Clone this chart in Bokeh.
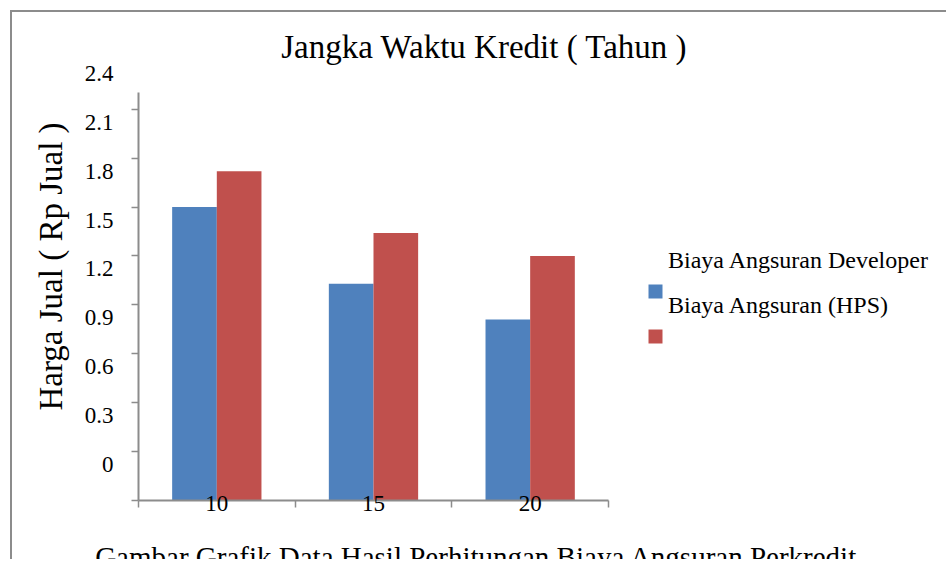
from bokeh.plotting import figure
from bokeh.models import (ColumnDataSource, Range1d, LinearAxis, FixedTicker,
                          Legend, LegendItem, Label, BoxAnnotation)
from bokeh.transform import dodge
from bokeh.embed import file_html
from bokeh.resources import INLINE

# ---------------- data ----------------
categories = ["10", "15", "20"]
developer = [1.50, 1.03, 0.81]
hps = [1.72, 1.34, 1.20]
series_names = ["Biaya Angsuran Developer", "Biaya Angsuran (HPS)"]
y_tick_values = [0, 0.3, 0.6, 0.9, 1.2, 1.5, 1.8, 2.1, 2.4]
y_tick_labels = ["0", "0.3", "0.6", "0.9", "1.2", "1.5", "1.8", "2.1", "2.4"]
title_text = "Jangka Waktu Kredit ( Tahun )"
y_title = "Harga Jual ( Rp Jual )"
caption_text = "Gambar Grafik Data Hasil Perhitungan Biaya Angsuran Perkredit"

# ---------------- style ----------------
FONT = "Liberation Serif"
GRAY = "#8c8c8c"
BLUE = "#4F81BD"
RED = "#C0504D"
COLORS = [BLUE, RED]

AXIS_BASE = -0.3      # where the drawn axis starts (bars grow from here)
AXIS_TOP = 2.2        # where the drawn y axis line ends
Y_START, Y_END = -0.674, 2.693
X_AXIS_START = -0.5
X_START, X_END = -1.304, 4.670
LABEL_SHIFT = 0.08

x_pos = list(range(len(categories)))
source = ColumnDataSource(dict(x=x_pos, dev=developer, hps=hps))

p = figure(width=936, height=549, output_backend="svg", toolbar_location=None,
           x_range=Range1d(X_START, X_END), y_range=Range1d(Y_START, Y_END),
           min_border_left=0, min_border_right=0, min_border_top=0,
           min_border_bottom=0,
           styles={"margin-left": "10px", "margin-top": "10px",
                   "border-left": "2px solid #8c8c8c",
                   "border-top": "2px solid #8c8c8c"})
p.outline_line_color = None
p.xgrid.visible = False
p.ygrid.visible = False
p.background_fill_color = "white"
p.border_fill_color = "white"

r_dev = p.vbar(x=dodge("x", -0.1425), top="dev", bottom=AXIS_BASE, width=0.285,
               source=source, fill_color=BLUE, line_color=None)
r_hps = p.vbar(x=dodge("x", 0.1425), top="hps", bottom=AXIS_BASE, width=0.285,
               source=source, fill_color=RED, line_color=None)

# x axis, drawn at the base of the bars
xa = p.xaxis[0]
xa.fixed_location = AXIS_BASE
xa.ticker = FixedTicker(ticks=x_pos,
                        minor_ticks=[i - 0.5 for i in range(len(categories) + 1)])
xa.bounds = (X_AXIS_START, len(categories) - 0.5)
xa.major_label_overrides = {i: c for i, c in zip(x_pos, categories)}
xa.major_tick_out = 0
xa.major_tick_in = 0
xa.minor_tick_out = 7
xa.minor_tick_in = 0
xa.axis_line_color = GRAY
xa.axis_line_width = 2
xa.minor_tick_line_color = GRAY
xa.minor_tick_line_width = 1.5
xa.major_label_text_font = FONT
xa.major_label_text_font_size = "23px"
xa.major_label_text_color = "black"
xa.major_label_standoff = -12

# y axis (line + tick marks only, no labels)
ya = p.yaxis[0]
ya.fixed_location = X_AXIS_START
ya.ticker = FixedTicker(ticks=[],
                        minor_ticks=[round(v + AXIS_BASE, 2) for v in y_tick_values])
ya.bounds = (AXIS_BASE, AXIS_TOP)
ya.major_tick_out = 0
ya.major_tick_in = 0
ya.minor_tick_out = 7
ya.minor_tick_in = 0
ya.axis_line_color = GRAY
ya.axis_line_width = 2
ya.minor_tick_line_color = GRAY
ya.minor_tick_line_width = 1.5
ya.major_label_standoff = 0

# y labels axis (labels sit a little below their tick marks)
p.extra_y_ranges = {"lbl": Range1d(Y_START + LABEL_SHIFT, Y_END + LABEL_SHIFT)}
yb = LinearAxis(y_range_name="lbl",
                fixed_location=X_AXIS_START,
                ticker=FixedTicker(ticks=y_tick_values),
                major_label_overrides=dict(zip(y_tick_values, y_tick_labels)),
                axis_line_color=None, major_tick_line_color=None,
                minor_tick_line_color=None, major_tick_out=0, major_tick_in=0,
                minor_tick_out=0, minor_tick_in=0,
                major_label_standoff=25,
                major_label_text_font=FONT, major_label_text_font_size="23px",
                major_label_text_color="black")
p.add_layout(yb, "left")

# legend: texts (one row above their keys, as in the source picture)
g1 = p.vbar(x=[], top=[], width=0.1, fill_alpha=0, line_alpha=0)
g2 = p.vbar(x=[], top=[], width=0.1, fill_alpha=0, line_alpha=0)
leg_tx = Legend(items=[LegendItem(label=series_names[0], renderers=[g1]),
                       LegendItem(label=series_names[1], renderers=[g2])],
                location=(636, 241), glyph_width=14, glyph_height=30,
                label_height=30, spacing=15, padding=0, margin=0,
                label_text_font=FONT, label_text_font_size="24px",
                label_text_color="black", label_standoff=6,
                border_line_color=None, background_fill_alpha=0)
p.add_layout(leg_tx)

# legend keys
for i, c in enumerate(COLORS):
    top = 277 - 45 * i
    p.add_layout(BoxAnnotation(left=636, right=650, top=top, bottom=top - 14,
                               left_units="screen", right_units="screen",
                               top_units="screen", bottom_units="screen",
                               fill_color=c, fill_alpha=1, line_color=None))

# titles
p.add_layout(Label(x=472, y=515, x_units="screen", y_units="screen",
                   text=title_text, text_font=FONT, text_font_size="33px",
                   text_align="center", text_baseline="alphabetic",
                   text_color="black"))
p.add_layout(Label(x=38, y=295, x_units="screen", y_units="screen",
                   text=y_title, text_font=FONT, text_font_size="33px",
                   angle=90, angle_units="deg",
                   text_align="center", text_baseline="middle",
                   text_color="black"))
p.add_layout(Label(x=464, y=5, x_units="screen", y_units="screen",
                   text=caption_text, text_font=FONT, text_font_size="29px",
                   text_align="center", text_baseline="alphabetic",
                   text_color="black"))

open("out.html", "w").write(file_html(p, INLINE))
